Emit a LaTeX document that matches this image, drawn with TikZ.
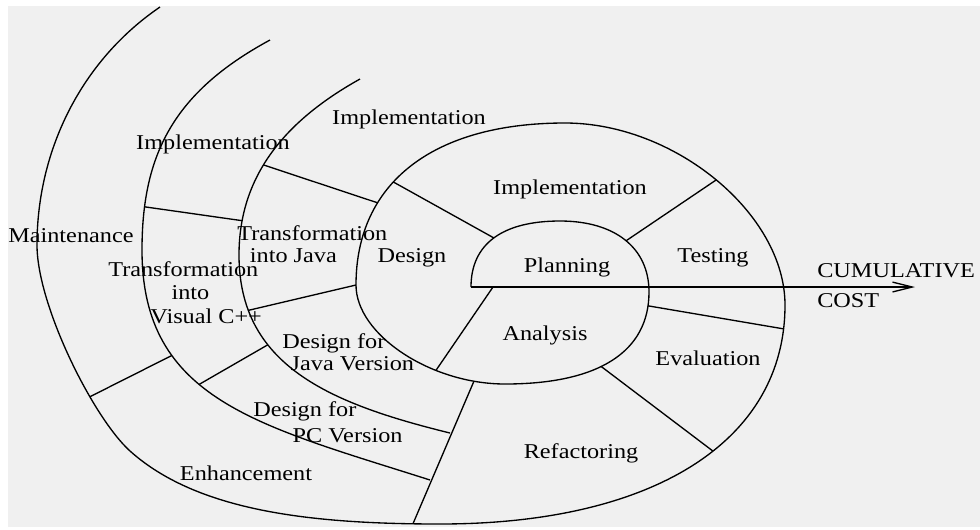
\documentclass[tikz,border=0pt]{standalone}
\usepackage{fontspec}
\setmainfont{Liberation Serif}[FakeStretch=1.15]
\usetikzlibrary{arrows.meta}
\definecolor{paper}{RGB}{240,240,240}
\tikzset{
  lbl/.style={inner sep=0pt, anchor=base},
  lbll/.style={inner sep=0pt, anchor=base west, align=left},
  turn/.style={line width=0.95pt, line join=round},
}
\begin{document}
\begin{tikzpicture}[x=0.025cm, y=-0.025cm, font=\fontsize{15}{15}\selectfont]
\useasboundingbox (0,0) rectangle (980,529);
\fill[paper] (8,6) rectangle (980,527);
%main spiral
\draw[turn] (471,287) coordinate (origin)
  .. controls (471,244.1) and (502.2,221) .. (560,221) coordinate[pos=.5] (j1b)
  .. controls (615.2,221) and (649,248) .. (649,292) coordinate[pos=.51] (j2a)
  .. controls (649,351.8) and (598.6,384) .. (505,384) coordinate[pos=.08] (j3a) coordinate[pos=.57] (j4a)
  .. controls (430.5,384) and (356,334.5) .. (356,285) coordinate[pos=.14] (j6a) coordinate[pos=.32] (j5b) coordinate (j9b)
  .. controls (356,183) and (433,123) .. (565,123) coordinate[pos=.31] (j8b) coordinate[pos=.41] (j1a)
  .. controls (675,123) and (785,214) .. (785,305) coordinate[pos=.5] (j2b)
  .. controls (785,440.8) and (653.9,524) .. (440,524) coordinate[pos=.06] (j3b) coordinate[pos=.44] (j4b)
  .. controls (310,524) and (197,511) .. (130,451) coordinate[pos=.07] (j6b)
  .. controls (93,417.5) and (37,305) .. (37,245) coordinate[pos=.33] (j11a)
  .. controls (37,150) and (81.5,60.5) .. (160,7);
%outer arcs
\draw[turn] (360,79)
  .. controls (285.8,120.4) and (239,175) .. (239,255) coordinate[pos=.57] (j8a) coordinate[pos=.85] (j7b)
  .. controls (239,365) and (328.6,403.25) .. (450,433) coordinate[pos=.19] (j9a) coordinate[pos=.34] (j10b);
\draw[turn] (270,40)
  .. controls (173.2,92.4) and (142,155) .. (142,250) coordinate[pos=.84] (j7a)
  .. controls (142,400) and (258.5,425.3) .. (430,480) coordinate[pos=.3] (j11b) coordinate[pos=.42] (j10a);
%phase borders
\coordinate (j5a) at (493,287);
\draw[turn] (j1a) -- (j1b);
\draw[turn] (j2a) -- (j2b);
\draw[turn] (j3a) -- (j3b);
\draw[turn] (j4a) -- (j4b);
\draw[turn] (j5a) -- (j5b);
\draw[turn] (j6a) -- (j6b);
\draw[turn] (j7a) -- (j7b);
\draw[turn] (j8a) -- (j8b);
\draw[turn] (j9a) -- (j9b);
\draw[turn] (j10a) -- (j10b);
\draw[turn] (j11a) -- (j11b);
%cost axis
\coordinate (costend) at (915,287);
\draw[turn, -{Straight Barb[length=14pt,width=7pt]}] (origin) -- (costend);
%labels
\node[lbl] (impl3) at (409,124) {Implementation};
\node[lbl] (impl2) at (213,149) {Implementation};
\node[lbl] (impl1) at (570,194) {Implementation};
\node[lbll] (maint) at (8,242) {Maintenance};
\node[lbll] (tjava) at (237,262) {Transformation\\\hspace*{9pt}into Java};
\node[lbl] (design) at (412,262) {Design};
\node[lbl] (plan) at (567,272) {Planning};
\node[lbl] (test) at (713,262) {Testing};
\node[lbll] (cost) at (817,307) {CUMULATIVE\\[6pt]COST};
\node[lbll] (tcpp) at (108,323) {Transformation\\[1.4pt]\hspace*{45pt}into\\[1.4pt]\hspace*{30pt}Visual C++};
\node[lbl] (anal) at (545,340) {Analysis};
\node[lbll] (djava) at (282,370) {Design for\\\hspace*{6pt}Java Version};
\node[lbl] (eval) at (708,365) {Evaluation};
\node[lbll] (dpc) at (253,442) {Design for\\[2.8pt]\hspace*{28pt}PC Version};
\node[lbl] (refac) at (581,458) {Refactoring};
\node[lbl] (enh) at (246,480) {Enhancement};
\end{tikzpicture}
\end{document}
